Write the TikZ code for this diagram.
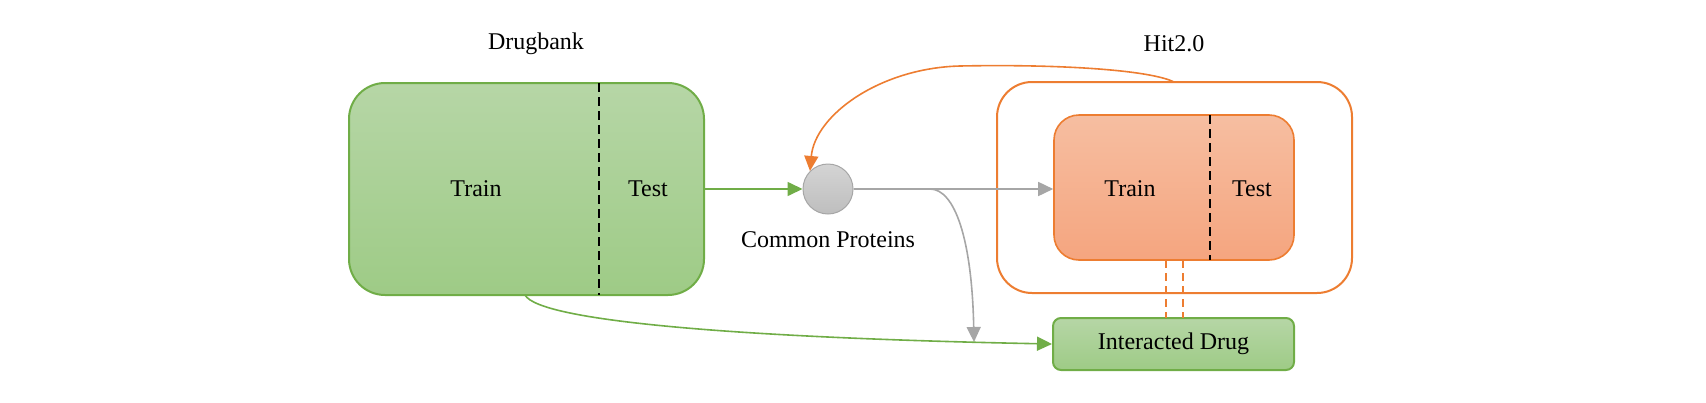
\documentclass[tikz,border=0pt]{standalone}
\usepackage{fontspec}
\setmainfont{Liberation Serif}
\usetikzlibrary{arrows.meta}
\definecolor{gstroke}{HTML}{70AD47}
\definecolor{gtop}{RGB}{182,214,166}
\definecolor{gbot}{RGB}{158,203,134}
\definecolor{ostroke}{HTML}{ED7D31}
\definecolor{otop}{RGB}{246,190,161}
\definecolor{obot}{RGB}{245,165,127}
\definecolor{grayline}{RGB}{166,166,166}
\definecolor{ctop}{RGB}{212,212,212}
\definecolor{cbot}{RGB}{190,190,190}
\tikzset{
  lbl/.style={font=\fontsize{12}{14}\selectfont, inner sep=0pt},
  greenbox/.style={draw=gstroke, line width=1pt, top color=gtop, bottom color=gbot, inner sep=0pt},
  orangebox/.style={draw=ostroke, line width=0.8pt, top color=otop, bottom color=obot, inner sep=0pt},
  splitline/.style={draw=black, line width=1pt, dash pattern=on 4.5pt off 2.5pt},
  arr/.style={line width=0.8pt, -{Triangle[length=7.5pt,width=7pt]}},
  odash/.style={draw=ostroke, line width=0.8pt, dash pattern=on 4pt off 2.5pt},
}
\begin{document}
\begin{tikzpicture}[x=0.5pt,y=-0.5pt]
\useasboundingbox (0,0) rectangle (1706,402);
% Drugbank
\node[greenbox, rounded corners=18pt, minimum width=177.5pt, minimum height=106pt] (db) at (526.5,189) {};
\coordinate (dbdt) at (599,83);
\coordinate (dbdb) at (599,295);
\draw[splitline] (dbdt) -- (dbdb);
\node[lbl] (dblabel) at (536,44) {Drugbank};
\node[lbl] (dbtrain) at (476,189) {Train};
\node[lbl] (dbtest) at (648,189) {Test};
% Common proteins
\node[circle, draw=grayline, line width=0.5pt, top color=ctop, bottom color=cbot, minimum size=25pt, inner sep=0pt] (cp) at (828,189) {};
\node[lbl] (cplabel) at (828,240) {Common Proteins};
% Hit2.0
\node[draw=ostroke, line width=1pt, fill=white, rounded corners=17.5pt, minimum width=177.5pt, minimum height=105.5pt, inner sep=0pt] (hitout) at (1174.5,187.5) {};
\node[orangebox, rounded corners=12.5pt, minimum width=120pt, minimum height=72.5pt] (hitin) at (1174,187.5) {};
\coordinate (hdt) at (1210,115);
\coordinate (hdb) at (1210,260);
\draw[splitline] (hdt) -- (hdb);
\node[lbl] (hitlabel) at (1174,44) {Hit2.0};
\node[lbl] (hittrain) at (1130,189) {Train};
\node[lbl] (hittest) at (1252,189) {Test};
% Interacted drug
\node[greenbox, rounded corners=4pt, minimum width=120.5pt, minimum height=26pt] (idrug) at (1173.5,344) {};
\node[lbl] (idlabel) at (1173.5,344) {Interacted Drug};
% dashed double link
\coordinate (d1t) at (1166,260);
\coordinate (d1b) at (1166,318);
\coordinate (d2t) at (1183,260);
\coordinate (d2b) at (1183,318);
\draw[odash] (d1t) -- (d1b);
\draw[odash] (d2t) -- (d2b);
% connectors
\draw[arr, gstroke] (db.east |- cp.west) -- (cp.west);
\draw[arr, grayline] (cp.east) -- (hitin.west |- cp.east);
\coordinate (gtip) at (974,342);
\draw[arr, grayline] (cp.east) -- (930,189) .. controls (955,189) and (972,240) .. (gtip);
\coordinate (gstart) at (525,295);
\draw[arr, gstroke] (gstart) .. controls (540,322) and (750,338) .. (idrug.west);
\coordinate (ostart) at (1174,82);
\coordinate (opeak) at (960,66);
\draw[arr, ostroke] (ostart) .. controls (1150,70) and (1060,64) .. (opeak) .. controls (880,68) and (815,115) .. (cp.north west);
\end{tikzpicture}
\end{document}
